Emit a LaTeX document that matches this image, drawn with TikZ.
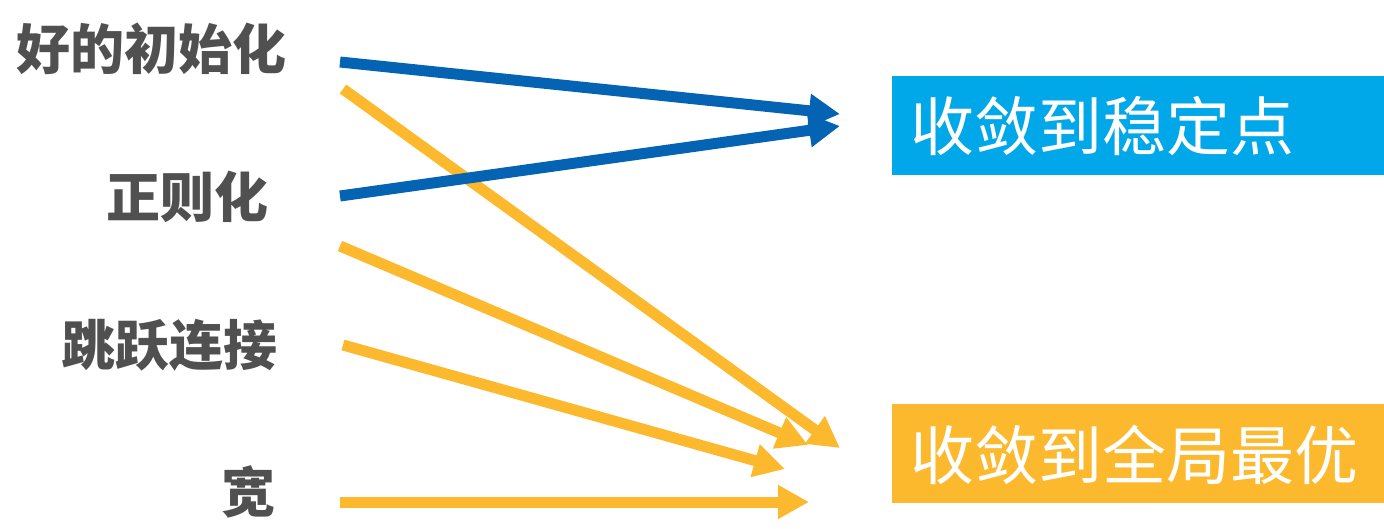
\documentclass[tikz,border=0pt]{standalone}
\usepackage{fontspec}
\newfontfamily\cjk{Noto Sans CJK SC}
\newfontfamily\cjkblack{Noto Sans CJK SC Black}
\usetikzlibrary{arrows.meta}
\definecolor{arrblue}{RGB}{4,99,178}
\definecolor{boxblue}{RGB}{0,168,234}
\definecolor{boxorange}{RGB}{252,185,46}
\definecolor{txtgray}{RGB}{80,80,80}
\tikzset{
  lab/.style={anchor=east, inner sep=0pt, text=txtgray, font=\cjkblack\fontsize{54}{60}\selectfont},
  res/.style={anchor=west, inner sep=0pt, text=white, font=\cjk\fontsize{64}{70}\selectfont},
  conn/.style={line width=11pt, -{Triangle[length=31pt,width=32pt]}},
  blueconn/.style={conn, draw=arrblue, fill=arrblue},
  orconn/.style={conn, draw=boxorange, fill=boxorange}
}
\begin{document}
\begin{tikzpicture}[x=1pt,y=-1pt]
\useasboundingbox (0,0) rectangle (1384,528);
% result boxes
\fill[boxblue] (892,76) rectangle (1384,175);
\fill[boxorange] (892,404) rectangle (1384,503);
\node[res] (r1) at (910,126) {收敛到稳定点};
\node[res] (r2) at (910,455) {收敛到全局最优};
% labels
\node[lab] (l1) at (287,49) {好的初始化};
\node[lab] (l2) at (269,197) {正则化};
\node[lab] (l3) at (278,345) {跳跃连接};
\node[lab] (l4) at (276,492) {宽};
% connector coordinates
\coordinate (s1) at (340,62);
\coordinate (s1b) at (343,89);
\coordinate (s2) at (340,196);
\coordinate (s3) at (340,246);
\coordinate (s4) at (343,345);
\coordinate (s5) at (340,502);
\coordinate (e1) at (840,114);
\coordinate (e2) at (840,126);
\coordinate (e3) at (840,448);
\coordinate (e4) at (808,445);
\coordinate (e5) at (785,469);
\coordinate (e6) at (809,502);
% connectors
\draw[orconn] (s1b) -- (e3);
\draw[orconn] (s3) -- (e4);
\draw[orconn] (s4) -- (e5);
\draw[orconn] (s5) -- (e6);
\draw[blueconn] (s1) -- (e1);
\draw[blueconn] (s2) -- (e2);
\end{tikzpicture}
\end{document}
